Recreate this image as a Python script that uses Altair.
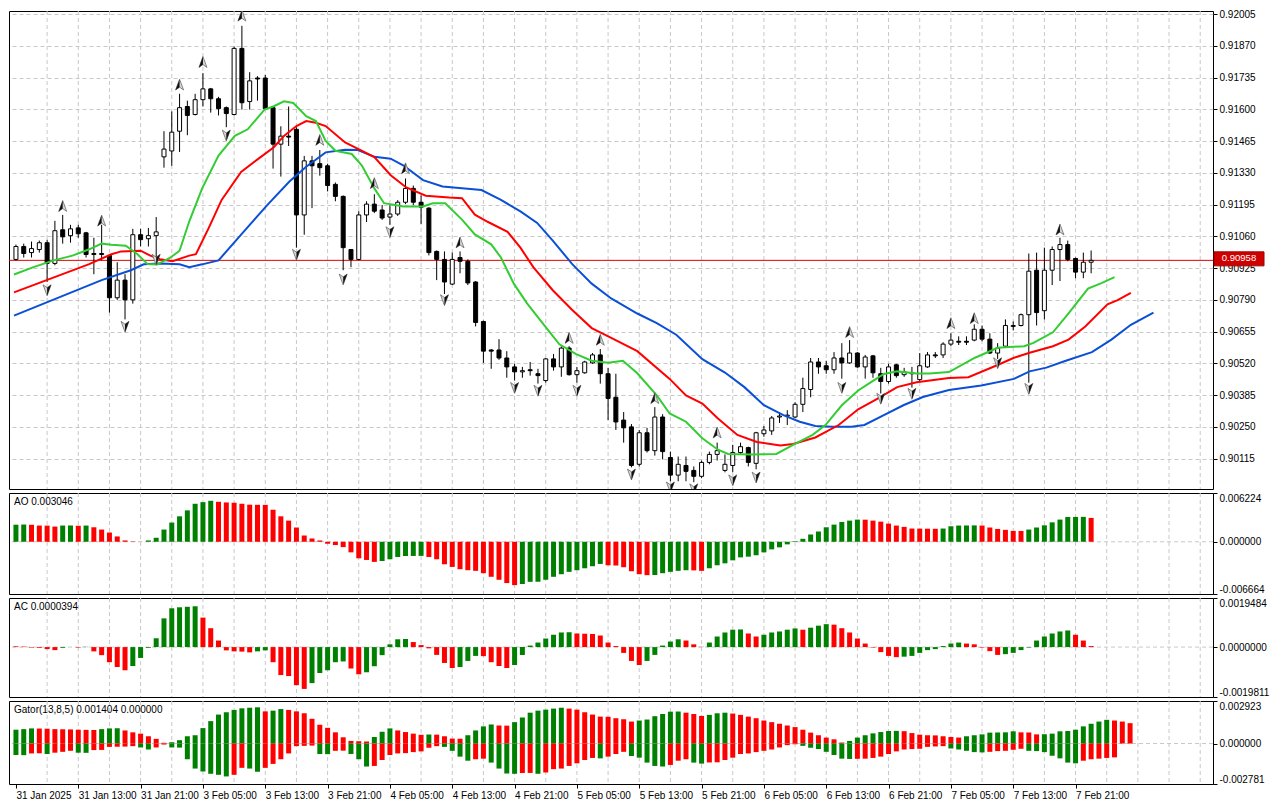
import altair as alt
import pandas as pd

FONT = "Liberation Sans"
PT = 1e-5  # one price point (prices below are given in points)

# ---------------- candles (H1), prices in points ----------------
open_pts = [90962, 91017, 90991, 91004, 91033, 90945, 91088, 91063, 91096, 91075,
            90987, 90987, 90979, 90799, 90874, 90790, 91067, 91050, 91063, 91398,
            91423, 91507, 91612, 91578, 91641, 91687, 91645, 91607, 91578, 91859,
            91633, 91733, 91733, 91607, 91452, 91486, 91515, 91151, 91381, 91369,
            91360, 91281, 91230, 91004, 90962, 91151, 91197, 91172, 91142, 91155,
            91205, 91264, 91205, 91180, 90996, 90962, 90857, 90970, 90954, 90866,
            90698, 90577, 90577, 90543, 90505, 90484, 90493, 90476, 90447, 90539,
            90505, 90585, 90472, 90480, 90522, 90556, 90476, 90376, 90279, 90250,
            90091, 90225, 90149, 90292, 90120, 90045, 90086, 90065, 90040, 90099,
            90133, 90065, 90086, 90141, 90162, 90095, 90221, 90233, 90292, 90296,
            90292, 90346, 90409, 90526, 90510, 90493, 90543, 90522, 90564, 90505,
            90552, 90476, 90443, 90514, 90472, 90480, 90451, 90505, 90556, 90556,
            90602, 90614, 90614, 90619, 90665, 90623, 90564, 90593, 90677, 90681,
            90727, 90916, 90744, 90916, 91004, 91025, 90966, 90908, 90950]
high_pts = [91025, 91029, 91038, 91042, 91046, 91126, 91151, 91109, 91109, 91079,
            91054, 91109, 90983, 90950, 90899, 91092, 91092, 91096, 91142, 91507,
            91591, 91666, 91637, 91666, 91754, 91691, 91653, 91612, 91867, 91955,
            91758, 91741, 91746, 91612, 91528, 91612, 91524, 91402, 91402, 91427,
            91369, 91289, 91234, 91004, 91167, 91209, 91239, 91193, 91193, 91214,
            91306, 91276, 91234, 91184, 91000, 90996, 90991, 90996, 90962, 90870,
            90702, 90581, 90623, 90572, 90518, 90505, 90526, 90497, 90543, 90560,
            90593, 90593, 90505, 90531, 90564, 90581, 90501, 90476, 90313, 90262,
            90237, 90246, 90334, 90304, 90145, 90124, 90124, 90082, 90107, 90145,
            90183, 90133, 90174, 90183, 90166, 90229, 90254, 90296, 90313, 90321,
            90355, 90459, 90543, 90543, 90531, 90568, 90606, 90619, 90568, 90556,
            90556, 90501, 90518, 90518, 90501, 90505, 90564, 90568, 90568, 90610,
            90648, 90635, 90635, 90686, 90681, 90648, 90606, 90707, 90698, 90732,
            90987, 90991, 91012, 91017, 91054, 91042, 90970, 90991, 91000]
low_pts = [90958, 90970, 90970, 90991, 90866, 90937, 91029, 91033, 91054, 90970,
           90899, 90958, 90736, 90790, 90707, 90774, 91017, 91017, 90970, 91352,
           91360, 91419, 91490, 91574, 91612, 91586, 91574, 91524, 91574, 91599,
           91599, 91637, 91599, 91348, 91314, 91444, 91012, 91067, 91180, 91318,
           91251, 91209, 90916, 90929, 90958, 91121, 91159, 91130, 91109, 91147,
           91197, 91193, 91113, 90979, 90874, 90815, 90853, 90903, 90853, 90677,
           90522, 90497, 90535, 90459, 90447, 90459, 90468, 90434, 90438, 90489,
           90463, 90468, 90438, 90476, 90518, 90434, 90279, 90237, 90183, 90078,
           90082, 90141, 90128, 90112, 90019, 90019, 90019, 90015, 90032, 90091,
           90107, 90057, 90057, 90133, 90082, 90070, 90208, 90216, 90267, 90258,
           90288, 90313, 90376, 90476, 90476, 90476, 90455, 90518, 90501, 90455,
           90459, 90392, 90434, 90459, 90463, 90417, 90443, 90501, 90543, 90543,
           90593, 90598, 90598, 90614, 90614, 90560, 90539, 90589, 90660, 90677,
           90438, 90681, 90707, 90853, 90870, 90954, 90882, 90882, 90903]
close_pts = [91017, 90987, 91008, 91033, 90945, 91084, 91058, 91092, 91071, 90983,
             90983, 90983, 90799, 90874, 90790, 91067, 91046, 91063, 91079, 91431,
             91503, 91607, 91574, 91641, 91687, 91645, 91603, 91582, 91859, 91628,
             91721, 91729, 91603, 91452, 91486, 91482, 91151, 91381, 91360, 91352,
             91276, 91230, 91012, 90962, 91151, 91197, 91167, 91138, 91155, 91205,
             91264, 91205, 91184, 90991, 90962, 90866, 90962, 90954, 90862, 90694,
             90572, 90572, 90543, 90505, 90484, 90489, 90489, 90468, 90539, 90505,
             90585, 90472, 90489, 90526, 90556, 90476, 90371, 90271, 90246, 90086,
             90225, 90149, 90292, 90145, 90045, 90091, 90061, 90040, 90099, 90133,
             90149, 90091, 90141, 90166, 90099, 90225, 90237, 90288, 90296, 90300,
             90346, 90413, 90526, 90505, 90493, 90543, 90522, 90564, 90505, 90547,
             90480, 90443, 90505, 90468, 90484, 90476, 90510, 90556, 90552, 90602,
             90619, 90610, 90610, 90665, 90623, 90564, 90585, 90681, 90681, 90727,
             90912, 90736, 90916, 91004, 91025, 90962, 90908, 90950, 90958]

# ---------------- Alligator lines (bar position, price in points) ----------------
jaw_idx = [-0.25, 11, 14.75, 16.4, 18.5, 21, 22.25, 23.9, 26, 28.9, 32.25, 35.1, 37.25, 39.75,
           42.25, 43.9, 46, 48.1, 49.75, 52.25, 54.75, 57.25, 59.75, 62.25, 64.75, 66.9, 68.9,
           71.4, 73.9, 76.4, 79.75, 82.25, 84.75, 88.1, 91, 93.5, 96, 98.5, 100.6, 102.6, 104.75,
           107.25, 108.9, 111.4, 113.9, 116.4, 119.75, 123.9, 128.1, 130.1, 132.25, 134.75,
           138.1, 140.6, 143.1, 146]
jaw_pts = [90723, 90874, 90916, 90941, 90945, 90941, 90929, 90941, 90958, 91067, 91193, 91293,
           91356, 91417, 91428, 91427, 91398, 91390, 91361, 91299, 91272, 91264, 91257, 91215,
           91166, 91117, 91042, 90942, 90859, 90796, 90732, 90691, 90642, 90538, 90481, 90419,
           90342, 90300, 90272, 90254, 90251, 90251, 90258, 90300, 90342, 90377, 90407, 90426,
           90454, 90486, 90502, 90531, 90568, 90621, 90684, 90736]
teeth_idx = [-0.25, 9.4, 12.25, 13.5, 16, 17.25, 18.5, 20.1, 22.25, 23.1, 24.75, 26.4, 28.9,
             31.4, 33.1, 34.4, 36, 37.25, 38.5, 39.75, 42.25, 46, 48.1, 50.1, 52.6, 55.6, 57.25,
             58.9, 60.6, 63.1, 64.75, 66.4, 68.9, 71.4, 73.9, 76.4, 79.75, 83.9, 86, 88.1, 90.1,
             92.6, 95.1, 98.1, 99.75, 102.6, 105.6, 108.1, 110.6, 113.1, 115.6, 119.75, 122.25,
             126, 128.1, 130.1, 133.1, 135.1, 137.25, 140.1, 141.4, 143.1]
teeth_pts = [90822, 90942, 90984, 90996, 90999, 90978, 90963, 90954, 90978, 90984, 91096, 91215,
             91334, 91397, 91439, 91487, 91529, 91550, 91543, 91529, 91459, 91397, 91320, 91268,
             91233, 91225, 91222, 91152, 91121, 91079, 91012, 90929, 90831, 90747, 90670, 90628,
             90572, 90454, 90384, 90349, 90286, 90216, 90186, 90171, 90177, 90205, 90258, 90325,
             90370, 90419, 90440, 90458, 90461, 90513, 90544, 90565, 90593, 90621, 90677, 90771,
             90789, 90820]
lips_idx = [-0.25, 2.25, 4.75, 7.25, 9.4, 11, 12.25, 14.1, 15.6, 16.9, 18.1, 19.75, 21, 22.25,
            23.9, 26, 28.1, 29.75, 31.9, 33.1, 34.4, 35.6, 37.25, 38.5, 39.75, 41, 43.1, 44.4,
            46, 47.25, 49.75, 52.25, 53.5, 55.1, 57.25, 58.9, 61, 62.25, 63.9, 65.6, 68.1, 69.75,
            71.9, 73.9, 76, 77.9, 79.75, 82.25, 83.9, 86, 88.1, 90.1, 91.4, 94.4, 97.6, 99.75,
            102.25, 103.9, 106, 108.1, 109.75, 111.4, 113.1, 115.6, 117.25, 119.75, 123.1, 126,
            129.4, 130.6, 133.1, 135.1, 137.6, 139.4, 141]
lips_pts = [90898, 90929, 90957, 90978, 91005, 91029, 91024, 91020, 90984, 90942, 90940, 90968,
            90999, 91124, 91264, 91403, 91487, 91515, 91599, 91613, 91634, 91627, 91571, 91550,
            91466, 91424, 91410, 91361, 91264, 91201, 91187, 91187, 91201, 91201, 91131, 91068,
            91026, 90970, 90859, 90775, 90670, 90601, 90559, 90531, 90523, 90531, 90478, 90384,
            90307, 90272, 90202, 90153, 90135, 90133, 90135, 90174, 90216, 90258, 90342, 90405,
            90440, 90475, 90486, 90477, 90477, 90483, 90544, 90586, 90593, 90607, 90652, 90733,
            90838, 90862, 90887]

# ---------------- Fractals ----------------
fr_up_idx = [6, 11, 21, 24, 29, 39, 46, 50, 57, 71, 75, 82, 90, 107, 120, 123, 134]
fr_up_pts = [91188, 91126, 91704, 91800, 91997, 91469, 91285, 91348, 91033, 90627, 90619,
             90371, 90225, 90652, 90690, 90711, 91088]
fr_dn_idx = [4, 14, 18, 27, 36, 42, 48, 55, 64, 67, 72, 79, 84, 87, 92, 95, 106, 111, 115, 126, 130]
fr_dn_pts = [90832, 90677, 90962, 91490, 90983, 90878, 91079, 90790, 90417, 90405, 90405,
             90049, 89994, 89986, 90024, 90036, 90417, 90371, 90392, 90522, 90413]

last_price = 0.90958

# ---------------- Awesome Oscillator ----------------
ao_vals = [0.00218, 0.00220, 0.00217, 0.00207, 0.00206, 0.00194, 0.00207, 0.00208, 0.00204, 0.00207,
           0.00185, 0.00156, 0.00118, 0.00068, 0.00017, 0.00005, 0.00001, 0.00017, 0.00051, 0.00156,
           0.00245, 0.00325, 0.00401, 0.00485, 0.00506, 0.00523, 0.00510, 0.00502, 0.00498, 0.00485,
           0.00473, 0.00472, 0.00471, 0.00409, 0.00325, 0.00270, 0.00182, 0.00080, 0.00042, 0.00017,
           -0.00025, -0.00042, -0.00068, -0.00135, -0.00211, -0.00232, -0.00257, -0.00245, -0.00223, -0.00194,
           -0.00182, -0.00181, -0.00180, -0.00194, -0.00223, -0.00287, -0.00321, -0.00350, -0.00363, -0.00371,
           -0.00401, -0.00447, -0.00485, -0.00527, -0.00553, -0.00540, -0.00511, -0.00510, -0.00485, -0.00447,
           -0.00414, -0.00384, -0.00363, -0.00338, -0.00312, -0.00283, -0.00300, -0.00303, -0.00325, -0.00376,
           -0.00414, -0.00426, -0.00424, -0.00401, -0.00384, -0.00371, -0.00363, -0.00365, -0.00371, -0.00338,
           -0.00300, -0.00275, -0.00237, -0.00199, -0.00190, -0.00172, -0.00135, -0.00097, -0.00071, -0.00033,
           0.00008, 0.00038, 0.00093, 0.00131, 0.00185, 0.00219, 0.00253, 0.00270, 0.00283, 0.00282,
           0.00270, 0.00257, 0.00232, 0.00207, 0.00190, 0.00169, 0.00168, 0.00167, 0.00166, 0.00169,
           0.00198, 0.00207, 0.00208, 0.00209, 0.00207, 0.00182, 0.00164, 0.00152, 0.00139, 0.00138,
           0.00156, 0.00182, 0.00210, 0.00248, 0.00283, 0.00316, 0.00317, 0.00318, 0.003046]

# ---------------- Accelerator Oscillator ----------------
ac_vals = [0.00003, 0.00002, -0.00002, -0.00003, -0.00008, -0.00012, -0.00003, 0.00000, -0.00002, 0.00001,
           -0.00017, -0.00032, -0.00060, -0.00079, -0.00092, -0.00075, -0.00043, -0.00003, 0.00035, 0.00114,
           0.00154, 0.00158, 0.00160, 0.00162, 0.00117, 0.00075, 0.00026, -0.00013, -0.00017, -0.00018,
           -0.00021, -0.00017, -0.00013, -0.00060, -0.00111, -0.00115, -0.00151, -0.00166, -0.00143, -0.00103,
           -0.00092, -0.00060, -0.00057, -0.00085, -0.00108, -0.00100, -0.00076, -0.00032, 0.00011, 0.00031,
           0.00032, 0.00020, 0.00008, -0.00005, -0.00031, -0.00063, -0.00083, -0.00079, -0.00055, -0.00035,
           -0.00036, -0.00060, -0.00075, -0.00083, -0.00071, -0.00031, 0.00006, 0.00018, 0.00034, 0.00049,
           0.00058, 0.00059, 0.00054, 0.00053, 0.00052, 0.00046, 0.00018, 0.00004, -0.00023, -0.00055,
           -0.00071, -0.00055, -0.00031, 0.00006, 0.00022, 0.00031, 0.00026, 0.00011, 0.00001, 0.00018,
           0.00042, 0.00058, 0.00069, 0.00070, 0.00054, 0.00042, 0.00049, 0.00058, 0.00062, 0.00069,
           0.00074, 0.00069, 0.00077, 0.00085, 0.00091, 0.00089, 0.00075, 0.00058, 0.00034, 0.00014,
           -0.00002, -0.00020, -0.00035, -0.00040, -0.00038, -0.00035, -0.00023, -0.00012, -0.00008, 0.00004,
           0.00014, 0.00018, 0.00014, 0.00011, -0.00002, -0.00016, -0.00031, -0.00028, -0.00023, -0.00012,
           -0.00002, 0.00026, 0.00042, 0.00054, 0.00062, 0.00066, 0.00049, 0.00026, 0.0000394]

# ---------------- Gator Oscillator (magnitudes) ----------------
gator_up = [0.00095, 0.00099, 0.00104, 0.00103, 0.00102, 0.00099, 0.00098, 0.00097, 0.00095, 0.00094,
            0.00093, 0.00099, 0.00104, 0.00105, 0.00090, 0.00077, 0.00068, 0.00050, 0.00032, 0.00005,
            0.00009, 0.00023, 0.00050, 0.00057, 0.00106, 0.00154, 0.00199, 0.00215, 0.00231, 0.00242,
            0.00246, 0.00249, 0.00221, 0.00226, 0.00237, 0.00231, 0.00221, 0.00208, 0.00170, 0.00129,
            0.00108, 0.00077, 0.00043, 0.00018, 0.00016, 0.00014, 0.00045, 0.00081, 0.00104, 0.00090,
            0.00079, 0.00068, 0.00060, 0.00062, 0.00061, 0.00050, 0.00034, 0.00033, 0.00057, 0.00090,
            0.00118, 0.00131, 0.00124, 0.00123, 0.00147, 0.00179, 0.00212, 0.00226, 0.00233, 0.00240,
            0.00246, 0.00240, 0.00233, 0.00215, 0.00199, 0.00185, 0.00184, 0.00174, 0.00167, 0.00151,
            0.00158, 0.00165, 0.00188, 0.00203, 0.00219, 0.00220, 0.00212, 0.00203, 0.00190, 0.00197,
            0.00208, 0.00212, 0.00206, 0.00197, 0.00185, 0.00174, 0.00158, 0.00147, 0.00136, 0.00124,
            0.00113, 0.00095, 0.00075, 0.00057, 0.00041, 0.00029, 0.00007, 0.00018, 0.00041, 0.00057,
            0.00070, 0.00079, 0.00086, 0.00087, 0.00085, 0.00072, 0.00061, 0.00057, 0.00056, 0.00050,
            0.00045, 0.00041, 0.00050, 0.00057, 0.00063, 0.00075, 0.00076, 0.00077, 0.00084, 0.00077,
            0.00076, 0.00063, 0.00064, 0.00068, 0.00084, 0.00086, 0.00095, 0.00118, 0.00136, 0.00151,
            0.00163, 0.00158, 0.00151, 0.00140]
gator_dn = [0.00079, 0.00080, 0.00068, 0.00067, 0.00072, 0.00063, 0.00057, 0.00050, 0.00063, 0.00064,
            0.00045, 0.00044, 0.00023, 0.00022, 0.00021, 0.00018, 0.00027, 0.00041, 0.00027, 0.00007,
            0.00027, 0.00028, 0.00108, 0.00172, 0.00192, 0.00208, 0.00215, 0.00226, 0.00215, 0.00167,
            0.00172, 0.00194, 0.00167, 0.00140, 0.00108, 0.00068, 0.00018, 0.00016, 0.00014, 0.00072,
            0.00073, 0.00050, 0.00049, 0.00072, 0.00108, 0.00158, 0.00154, 0.00113, 0.00079, 0.00068,
            0.00066, 0.00059, 0.00054, 0.00029, 0.00018, 0.00023, 0.00050, 0.00090, 0.00118, 0.00108,
            0.00104, 0.00131, 0.00172, 0.00206, 0.00208, 0.00203, 0.00202, 0.00208, 0.00199, 0.00176,
            0.00172, 0.00154, 0.00136, 0.00113, 0.00099, 0.00102, 0.00090, 0.00072, 0.00057, 0.00086,
            0.00097, 0.00131, 0.00154, 0.00158, 0.00147, 0.00118, 0.00108, 0.00131, 0.00138, 0.00130,
            0.00129, 0.00113, 0.00097, 0.00072, 0.00068, 0.00059, 0.00050, 0.00041, 0.00027, 0.00011,
            0.00005, 0.00016, 0.00029, 0.00038, 0.00057, 0.00079, 0.00104, 0.00106, 0.00105, 0.00104,
            0.00099, 0.00090, 0.00072, 0.00054, 0.00041, 0.00038, 0.00036, 0.00023, 0.00020, 0.00018,
            0.00034, 0.00041, 0.00050, 0.00059, 0.00061, 0.00057, 0.00052, 0.00050, 0.00043, 0.00036,
            0.00050, 0.00052, 0.00059, 0.00084, 0.00102, 0.00131, 0.00136, 0.00118, 0.00108, 0.00104,
            0.00099, 0.00095]

# ---------------- axis labels / titles ----------------
time_labels = ["31 Jan 2025", "31 Jan 13:00", "31 Jan 21:00", "3 Feb 05:00", "3 Feb 13:00",
               "3 Feb 21:00", "4 Feb 05:00", "4 Feb 13:00", "4 Feb 21:00", "5 Feb 05:00",
               "5 Feb 13:00", "5 Feb 21:00", "6 Feb 05:00", "6 Feb 13:00", "6 Feb 21:00",
               "7 Feb 05:00", "7 Feb 13:00", "7 Feb 21:00"]
price_ticks = [0.92005, 0.91870, 0.91735, 0.91600, 0.91465, 0.91330, 0.91195, 0.91060,
               0.90925, 0.90790, 0.90655, 0.90520, 0.90385, 0.90250, 0.90115]
ao_ticks = [0.006224, 0.0, -0.006664]
ac_ticks = [0.0019484, 0.0, -0.0019811]
gator_ticks = [0.002923, 0.0, -0.002781]
ao_title = "AO 0.003046"
ac_title = "AC 0.0000394"
gator_title = "Gator(13,8,5) 0.001404 0.000000"

# ---------------- layout / style ----------------
W = 1204
H_MAIN, H_AO, H_AC, H_GT = 478, 101, 99, 83
X_DOMAIN = [-0.25, 153.0]
Y_MAIN = [0.89986, 0.92018]
GREEN, RED = "#008000", "#ff0000"
GRID = "#c8c8c8"
DASH = [4, 3]

xs = alt.Scale(domain=X_DOMAIN, nice=False, zero=False)


def xenc(axis=None):
    return alt.X("idx:Q", scale=xs, axis=axis)


grid_df = pd.DataFrame({"idx": list(range(4, 153, 4))})


def vgrid(xaxis=None):
    return alt.Chart(grid_df).mark_rule(color=GRID, strokeDash=DASH, strokeWidth=1).encode(
        x=xenc(xaxis))


# ---------------- main price panel ----------------
n = len(open_pts)
cdf = pd.DataFrame({
    "idx": list(range(n)),
    "o": [v * PT for v in open_pts],
    "h": [v * PT for v in high_pts],
    "l": [v * PT for v in low_pts],
    "c": [v * PT for v in close_pts],
})
cdf["dir"] = ["bull" if c > o else "bear" for o, c in zip(cdf["o"], cdf["c"])]

ys_main = alt.Scale(domain=Y_MAIN, nice=False, zero=False)
y_axis_main = alt.Axis(orient="right", values=price_ticks, format=".5f", grid=True,
                       gridColor=GRID, gridDash=DASH, tickSize=4, tickColor="black",
                       domain=False, title=None, labelPadding=2, labelColor="black",
                       labelFont=FONT, labelFontSize=10)


def ymain(field):
    return alt.Y(field, scale=ys_main, axis=y_axis_main)


price_df = pd.DataFrame({"p": [last_price]})
price_line = alt.Chart(price_df).mark_rule(color="#e00000", strokeWidth=1).encode(y=ymain("p:Q"))

wicks = alt.Chart(cdf).mark_rule(color="black", strokeWidth=1, clip=True).encode(
    x=xenc(), y=ymain("l:Q"), y2="h:Q")
bodies = alt.Chart(cdf).mark_bar(width=4, stroke="black", strokeWidth=1, clip=True).encode(
    x=xenc(), y=ymain("o:Q"), y2="c:Q",
    fill=alt.Fill("dir:N", scale=alt.Scale(domain=["bull", "bear"], range=["white", "black"]),
                  legend=None))


def gator_line(idx, pts, color):
    df = pd.DataFrame({"idx": idx, "p": [v * PT for v in pts]})
    return alt.Chart(df).mark_line(color=color, strokeWidth=2, clip=True).encode(
        x=xenc(), y=ymain("p:Q"))


UP_FULL = "M0,-1L0.7,0.9L0,0.4L-0.7,0.9Z"
UP_DARK = "M0,-1L0,0.4L-0.7,0.9Z"
DN_FULL = "M0,1L0.7,-0.9L0,-0.4L-0.7,-0.9Z"
DN_DARK = "M0,1L0,-0.4L0.7,-0.9Z"


def fractals(idx, pts, full, dark):
    df = pd.DataFrame({"idx": idx, "p": [v * PT for v in pts]})
    base = alt.Chart(df).encode(x=xenc(), y=ymain("p:Q"))
    a = base.mark_point(shape=full, size=130, filled=True, fill="#d8d8d8", stroke="#6a6a6a",
                        strokeWidth=0.8, opacity=1, clip=True)
    b = base.mark_point(shape=dark, size=130, filled=True, fill="#111111", strokeWidth=0,
                        opacity=1, clip=True)
    return [a, b]


box = alt.Chart(price_df).mark_point(
    shape="M-1,-0.34L1,-0.34L1,0.22L-1,0.22Z", size=2500, filled=True, fill="#d00000",
    stroke="#a00000", strokeWidth=1, opacity=1).encode(x=alt.value(W + 26), y=ymain("p:Q"))
box_text = alt.Chart(price_df).mark_text(color="white", fontSize=9.5, font=FONT, dy=-2).encode(
    x=alt.value(W + 26), y=ymain("p:Q"), text=alt.Text("p:Q", format=".5f"))

main = alt.layer(
    vgrid(), price_line, wicks, bodies,
    gator_line(jaw_idx, jaw_pts, "#0a4fd6"),
    gator_line(teeth_idx, teeth_pts, "#ff0000"),
    gator_line(lips_idx, lips_pts, "#32cd32"),
    *fractals(fr_up_idx, fr_up_pts, UP_FULL, UP_DARK),
    *fractals(fr_dn_idx, fr_dn_pts, DN_FULL, DN_DARK),
    box, box_text,
).properties(width=W, height=H_MAIN)


# ---------------- indicator panels ----------------
def directions(mags, first_up):
    out = ["up" if first_up else "down"]
    for i in range(1, len(mags)):
        out.append("up" if mags[i] > mags[i - 1] else "down")
    return out


def y_axis_ind(ticks, decimals):
    expr = "(datum.value < 0 ? '-' : '') + format(abs(datum.value), '.%df')" % decimals
    return alt.Axis(orient="right", values=ticks, labelExpr=expr, labelFlush=True, grid=False,
                    domain=False, tickSize=4, tickColor="black", title=None, labelPadding=2,
                    labelColor="black", labelFont=FONT, labelFontSize=10)


def bars(vals, dirs, ys, yaxis, xaxis=None):
    df = pd.DataFrame({"idx": list(range(len(vals))), "v": vals, "z": [0.0] * len(vals),
                       "dir": dirs})
    return alt.Chart(df).mark_bar(width=5, clip=True).encode(
        x=xenc(xaxis), y=alt.Y("v:Q", scale=ys, axis=yaxis), y2="z:Q",
        color=alt.Color("dir:N", scale=alt.Scale(domain=["up", "down"], range=[GREEN, RED]),
                        legend=None))


def zero_line(ys, yaxis):
    return alt.Chart(pd.DataFrame({"z": [0.0]})).mark_rule(
        color=GRID, strokeDash=DASH, strokeWidth=1).encode(y=alt.Y("z:Q", scale=ys, axis=yaxis))


def title_text(t):
    return alt.Chart(pd.DataFrame({"t": [t]})).mark_text(
        align="left", baseline="middle", fontSize=10, font=FONT, color="black").encode(
        x=alt.value(5), y=alt.value(9), text="t:N")


ys_ao = alt.Scale(domain=[ao_ticks[2], ao_ticks[0]], nice=False, zero=False)
ya_ao = y_axis_ind(ao_ticks, 6)
ao_panel = alt.layer(
    vgrid(), zero_line(ys_ao, ya_ao),
    bars(ao_vals, directions(ao_vals, True), ys_ao, ya_ao),
    title_text(ao_title),
).properties(width=W, height=H_AO)

ys_ac = alt.Scale(domain=[ac_ticks[2], ac_ticks[0]], nice=False, zero=False)
ya_ac = y_axis_ind(ac_ticks, 7)
ac_panel = alt.layer(
    vgrid(), zero_line(ys_ac, ya_ac),
    bars(ac_vals, directions(ac_vals, False), ys_ac, ya_ac),
    title_text(ac_title),
).properties(width=W, height=H_AC)

x_expr = "[" + ",".join("'%s'" % s for s in time_labels) + "][round(datum.value / 8)]"
x_axis = alt.Axis(values=list(range(0, 8 * len(time_labels), 8)), labelExpr=x_expr,
                  labelAlign="left", labelAngle=0, labelPadding=2, labelOverlap=False,
                  labelFlush=False, tickSize=4, tickColor="black", domain=False, grid=False,
                  title=None, labelColor="black", labelFont=FONT, labelFontSize=10)

ys_gt = alt.Scale(domain=[gator_ticks[2], gator_ticks[0]], nice=False, zero=False)
ya_gt = y_axis_ind(gator_ticks, 6)
gt_panel = alt.layer(
    vgrid(x_axis), zero_line(ys_gt, ya_gt),
    bars(gator_up, directions(gator_up, True), ys_gt, ya_gt, x_axis),
    bars([-m for m in gator_dn], directions(gator_dn, True), ys_gt, ya_gt, x_axis),
    title_text(gator_title),
).properties(width=W, height=H_GT)

chart = alt.vconcat(main, ao_panel, ac_panel, gt_panel, spacing=2).properties(
    padding=0, background="white"
).configure_view(stroke="black", strokeWidth=1).configure_axis(
    labelFont=FONT, labelFontSize=10)

chart.save("out.html", embed_options={"renderer": "svg", "actions": False})
